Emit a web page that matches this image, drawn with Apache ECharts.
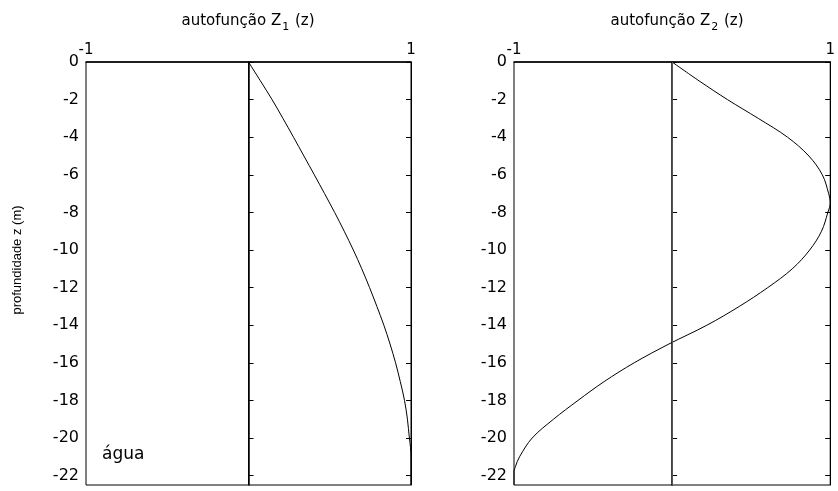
<!DOCTYPE html>
<html>
<head>
<meta charset="utf-8">
<script src="https://cdn.jsdelivr.net/npm/echarts@6/dist/echarts.min.js"></script>
<style>
html,body{margin:0;padding:0;background:#fff;}
#chart{width:838px;height:491px;}
</style>
</head>
<body>
<div id="chart"></div>
<script>
// depth (m) and eigenfunction values
const depthZ1 = [0, -1, -2, -3, -4, -5, -6, -7, -8, -9, -10, -11, -12, -13, -14, -15, -16, -17, -18, -19, -20, -20.5, -21, -22, -22.5];
const valuesZ1 = [0, 0.073, 0.145, 0.212, 0.277, 0.341, 0.405, 0.468, 0.53, 0.589, 0.645, 0.697, 0.745, 0.79, 0.833, 0.871, 0.905, 0.934, 0.96, 0.978, 0.99, 0.997, 1.0, 1.0, 1.0];
const depthZ2 = [0, -1, -2, -3, -4, -5, -6, -7, -7.5, -8, -9, -10, -11, -12, -13, -14, -15, -16, -17, -18, -19, -20, -21, -21.5, -21.8, -22.5];
const valuesZ2 = [0, 0.17, 0.35, 0.545, 0.73, 0.865, 0.95, 0.99, 1.0, 0.985, 0.945, 0.87, 0.76, 0.605, 0.425, 0.22, -0.02, -0.24, -0.43, -0.595, -0.75, -0.885, -0.965, -0.99, -1.0, -1.0];
const yTicks = [0, -2, -4, -6, -8, -10, -12, -14, -16, -18, -20, -22];
const xTicks = [-1, 1];
const titleBase = 'autofunção Z';
const titleSubs = ['1', '2'];
const yName = 'profundidade z (m)';
const layerName = 'água';

const FONT = 'DejaVu Sans';
const chart = echarts.init(document.getElementById('chart'), null, {renderer: 'canvas'});

const grids = [
  {left: 86, top: 62, width: 325, height: 423, show: true, borderColor: '#000', borderWidth: 1},
  {left: 514, top: 62, width: 326, height: 423, show: true, borderColor: '#000', borderWidth: 1}
];

function xAxisFor(i) {
  return {
    type: 'value', gridIndex: i, position: 'top', min: -1, max: 1,
    axisLine: {show: true, lineStyle: {color: '#000', width: 1.5}},
    axisTick: {show: false},
    splitLine: {show: false},
    axisLabel: {customValues: xTicks, margin: 4, color: '#000', fontFamily: FONT, fontSize: 15,
      formatter: v => String(v)}
  };
}
function yAxisLeft(i) {
  return {
    type: 'value', gridIndex: i, position: 'left', min: -22.5, max: 0,
    axisLine: {show: true, lineStyle: {color: '#000', width: 1.5}},
    axisTick: {show: true, inside: true, length: 5, customValues: yTicks, lineStyle: {color: '#000'}},
    splitLine: {show: false},
    axisLabel: {customValues: yTicks, margin: 7, color: '#000', fontFamily: FONT, fontSize: 16,
      formatter: v => String(v)}
  };
}
function yAxisRight(i) {
  return {
    type: 'value', gridIndex: i, position: 'right', min: -22.5, max: 0,
    axisLine: {show: true, lineStyle: {color: '#000', width: 1}},
    axisTick: {show: true, inside: true, length: 5, customValues: yTicks, lineStyle: {color: '#000'}},
    splitLine: {show: false},
    axisLabel: {show: false}
  };
}

function series(i, vals, depths, zeroColor) {
  return {
    type: 'line', xAxisIndex: i, yAxisIndex: i * 2,
    data: vals.map((v, k) => [v, depths[k]]),
    showSymbol: false, symbol: 'none', smooth: 0.35,
    lineStyle: {color: '#000', width: 1},
    clip: true,
    markLine: {
      silent: true, symbol: 'none', label: {show: false},
      lineStyle: {color: zeroColor, width: 1, type: 'solid'},
      data: [{xAxis: 0}]
    }
  };
}

const titleRich = {
  a: {fontFamily: FONT, fontSize: 15, fontWeight: 'normal', color: '#000'},
  s: {fontFamily: FONT, fontSize: 11, fontWeight: 'normal', color: '#000', padding: [12, 1, 0, 1]}
};

const option = {
  backgroundColor: '#fff',
  animation: false,
  title: [
    {text: '{a|' + titleBase + '}{s|' + titleSubs[0] + '}{a| (z)}', left: 248, top: 10, textAlign: 'center', padding: 0,
     textStyle: {fontWeight: 'normal', rich: titleRich}},
    {text: '{a|' + titleBase + '}{s|' + titleSubs[1] + '}{a| (z)}', left: 677, top: 10, textAlign: 'center', padding: 0,
     textStyle: {fontWeight: 'normal', rich: titleRich}}
  ],
  grid: grids,
  xAxis: [xAxisFor(0), xAxisFor(1)],
  yAxis: [yAxisLeft(0), yAxisRight(0), yAxisLeft(1), yAxisRight(1)],
  series: [
    series(0, valuesZ1, depthZ1, '#000'),
    series(1, valuesZ2, depthZ2, '#555')
  ],
  graphic: [
    {type: 'text', left: 102, top: 446, style: {text: layerName, fontFamily: FONT, fontSize: 17, fill: '#000'}},
    {type: 'text', x: 17, y: 260, rotation: Math.PI / 2,
     style: {text: yName, fontFamily: 'Liberation Sans', fontSize: 13, fill: '#000', align: 'center', verticalAlign: 'middle'}}
  ]
};
chart.setOption(option);
</script>
</body>
</html>
